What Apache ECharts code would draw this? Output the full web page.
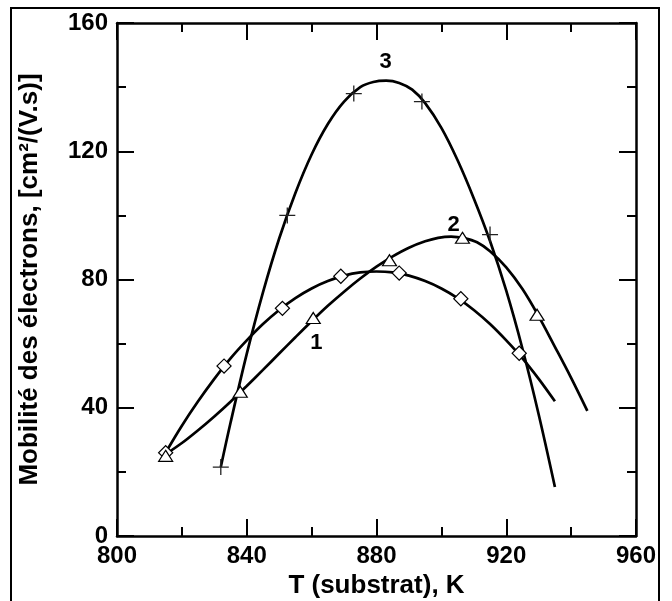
<!DOCTYPE html>
<html>
<head>
<meta charset="utf-8">
<script src="https://cdn.jsdelivr.net/npm/echarts@6/dist/echarts.min.js"></script>
<style>
  html, body { margin: 0; padding: 0; background: #fff; }
  #chart { width: 672px; height: 601px; }
</style>
</head>
<body>
<div id="chart"></div>
<script>
// measured points (markers)
const diamondT = [815, 833, 851, 869, 887, 906, 924];
const diamondMu = [26, 53, 71, 81, 82, 74, 57];
const triangleT = [815, 838, 860.5, 884, 906.5, 929.5];
const triangleMu = [25, 45, 68, 86, 93, 69];
const crossT = [832, 852.5, 873, 894, 915];
const crossMu = [21.5, 100, 138, 135.5, 94];

// fitted curves
const curve1T = [815, 820, 825, 830, 835, 840, 845, 850, 855, 860, 865, 870, 875, 880, 885, 890, 895, 900, 905, 910, 915, 920, 925, 930, 935];
const curve1Mu = [26, 34.4, 42, 49, 55.4, 61, 66.1, 70.5, 74.2, 77.2, 79.5, 81.2, 82.2, 82.5, 82.2, 81.2, 79.5, 77.2, 74.2, 70.5, 66.1, 61, 55.4, 49, 42];
const curve2T = [815, 820, 825, 830, 835, 840, 845, 850, 855, 860, 865, 870, 875, 880, 885, 890, 895, 899, 903, 907, 911, 915, 920, 925, 930, 935, 940, 945];
const curve2Mu = [25.5, 29, 33, 37.3, 41.9, 46.8, 51.8, 56.9, 62, 67, 71.8, 76.2, 80.3, 84, 87.2, 89.9, 91.9, 93, 93.4, 92.9, 91.6, 88.8, 83.8, 77, 68.5, 59, 49.3, 39];
const curve3T = [832, 835, 840, 845, 850, 855, 860, 865, 870, 875, 879, 883, 887, 891, 895, 900, 905, 910, 915, 920, 925, 930, 935];
const curve3Mu = [21.5, 35.3, 56.8, 76, 92.8, 107, 119, 128.5, 135.5, 140, 141.6, 142, 141.3, 139.2, 135, 127.3, 117.2, 105.3, 92, 76.5, 58.4, 37.9, 15.3];

// curve tags
const tagT = [861.5, 903.8, 882.8];
const tagMu = [60.2, 97, 147.8];
const tagText = ['1', '2', '3'];

const FONT = 'Liberation Sans';
const pairs = (xs, ys) => xs.map((x, i) => [x, ys[i]]);

const chart = echarts.init(document.getElementById('chart'));

const axisBase = {
  type: 'value',
  axisLine: { show: true, onZero: false, lineStyle: { color: '#000', width: 2.5 } },
  axisTick: { show: true, inside: true, length: 17, lineStyle: { color: '#000', width: 2 } },
  minorTick: { show: true, splitNumber: 2, length: 9, lineStyle: { color: '#000', width: 2 } },
  splitLine: { show: false },
  minorSplitLine: { show: false }
};
const labelStyle = { color: '#000', fontFamily: FONT, fontWeight: 'bold', fontSize: 24 };
const nameStyle = { color: '#000', fontFamily: FONT, fontWeight: 'bold', fontSize: 26 };

const markerStyle = { color: '#fff', borderColor: '#000', borderWidth: 1.2, opacity: 1 };
const curveStyle = { color: '#000', width: 2.7 };

chart.setOption({
  animation: false,
  backgroundColor: '#fff',
  grid: { left: 117, right: 36, top: 23, bottom: 65, containLabel: false, outerBoundsMode: 'none' },
  graphic: [{
    type: 'rect',
    shape: { x: 11, y: 8, width: 648, height: 610 },
    style: { fill: 'none', stroke: '#000', lineWidth: 2 },
    silent: true
  }],
  xAxis: [
    Object.assign({}, axisBase, {
      position: 'bottom', min: 800, max: 960, interval: 40,
      axisLabel: Object.assign({ margin: 8 }, labelStyle),
      name: 'T (substrat), K', nameLocation: 'middle', nameGap: 33, nameTextStyle: nameStyle
    }),
    Object.assign({}, axisBase, {
      position: 'top', min: 800, max: 960, interval: 40,
      axisLabel: { show: false }
    })
  ],
  yAxis: [
    Object.assign({}, axisBase, {
      position: 'left', min: 0, max: 160, interval: 40,
      axisLabel: Object.assign({ margin: 9 }, labelStyle),
      name: 'Mobilité des électrons, [cm²/(V.s)]', nameLocation: 'middle', nameGap: 74,
      nameTextStyle: nameStyle
    }),
    Object.assign({}, axisBase, {
      position: 'right', min: 0, max: 160, interval: 40,
      axisLabel: { show: false }
    })
  ],
  series: [
    {
      name: 'curve1', type: 'line', smooth: 0.35, showSymbol: false, z: 2,
      lineStyle: curveStyle, data: pairs(curve1T, curve1Mu)
    },
    {
      name: 'curve2', type: 'line', smooth: 0.35, showSymbol: false, z: 2,
      lineStyle: curveStyle, data: pairs(curve2T, curve2Mu)
    },
    {
      name: 'curve3', type: 'line', smooth: 0.35, showSymbol: false, z: 2,
      lineStyle: curveStyle, data: pairs(curve3T, curve3Mu)
    },
    {
      name: 'diamonds', type: 'scatter', symbol: 'rect', symbolRotate: 45, symbolSize: 10, z: 3,
      itemStyle: markerStyle, data: pairs(diamondT, diamondMu)
    },
    {
      name: 'triangles', type: 'scatter', symbol: 'triangle', symbolSize: [14, 11], z: 3,
      itemStyle: markerStyle, data: pairs(triangleT, triangleMu)
    },
    {
      name: 'crosses', type: 'scatter', symbol: 'path://M0,5 L10,5 M5,0 L5,10', symbolSize: 16, z: 3,
      itemStyle: { color: 'none', borderColor: '#222', borderWidth: 1.3, opacity: 1 },
      data: pairs(crossT, crossMu)
    },
    {
      name: 'tags', type: 'scatter', symbolSize: 1, z: 4,
      itemStyle: { color: 'rgba(0,0,0,0)', opacity: 1 },
      label: {
        show: true, position: 'inside', color: '#000', opacity: 1,
        fontFamily: FONT, fontWeight: 'bold', fontSize: 22,
        formatter: (p) => tagText[p.dataIndex]
      },
      data: pairs(tagT, tagMu)
    }
  ]
});
</script>
</body>
</html>
